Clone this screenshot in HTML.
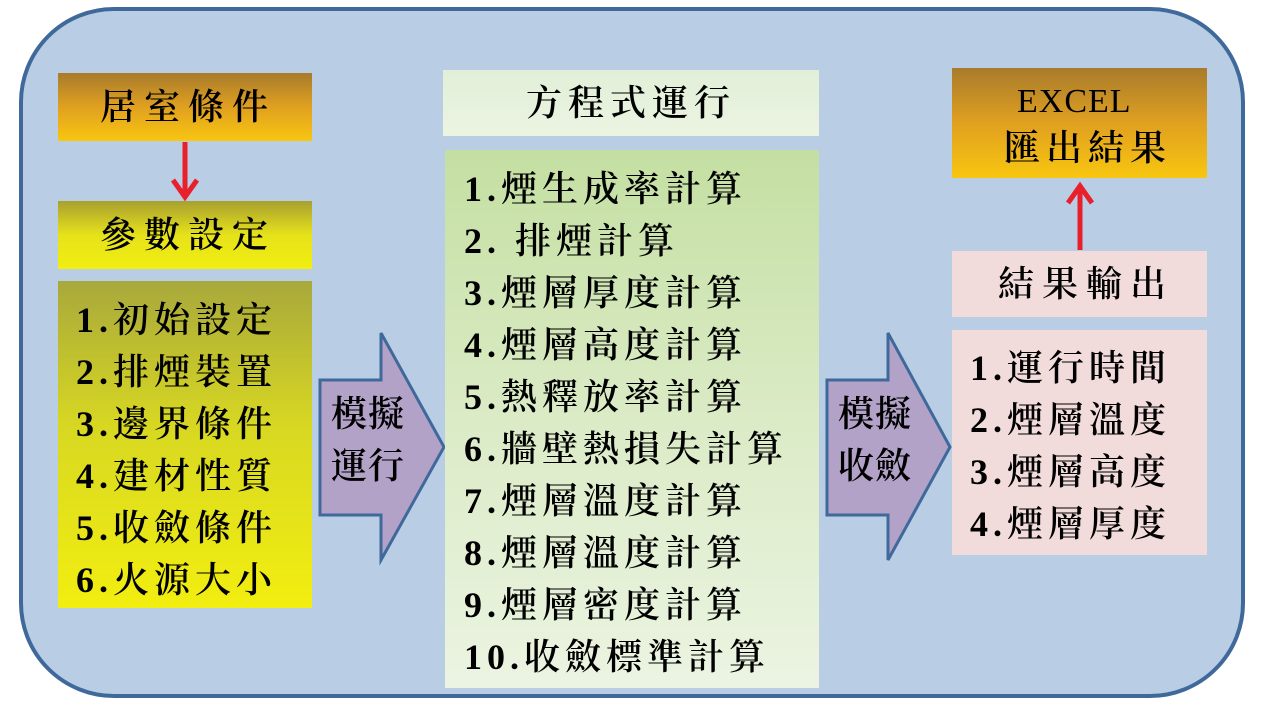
<!DOCTYPE html>
<html><head><meta charset="utf-8"><style>
body{margin:0;width:1262px;height:708px;background:#fff;position:relative;overflow:hidden;font-family:"Liberation Serif","Noto Serif CJK SC","Noto Serif CJK TC",serif;color:#000}
.a{position:absolute;box-sizing:border-box}
.t{position:absolute;font-size:36px;white-space:nowrap;letter-spacing:5px;line-height:1;font-weight:600}
</style></head><body>
<div class="a" style="left:19px;top:7px;width:1226px;height:691px;border:4px solid #40699b;border-radius:95px;background:#b9cde5"></div>

<div class="a" style="left:58px;top:73px;width:254px;height:68px;background:linear-gradient(#a87b2c,#e0a020 50%,#f8c610)"></div>
<div class="t" style="left:100px;top:89px;letter-spacing:8px">居室條件</div>
<svg class="a" style="left:0;top:0" width="1262" height="708">
<line x1="185" y1="142" x2="185" y2="196" stroke="#e8202c" stroke-width="5"/>
<polyline points="173,180 185,197 197,180" fill="none" stroke="#e8202c" stroke-width="5"/>
<line x1="1080" y1="250" x2="1080" y2="186" stroke="#e8202c" stroke-width="5"/>
<polyline points="1068,203 1080,186 1092,203" fill="none" stroke="#e8202c" stroke-width="5"/>
<polygon points="320,380 381,380 381,333 444,447 381,560 381,515 320,515" fill="#b3a2c7" stroke="#40699b" stroke-width="3"/>
<polygon points="827,380 888,380 888,333 950,447 888,560 888,515 827,515" fill="#b3a2c7" stroke="#40699b" stroke-width="3"/>
</svg>
<div class="a" style="left:58px;top:201px;width:254px;height:68px;background:linear-gradient(#a8a030,#e6e21a 50%,#f2ee10)"></div>
<div class="t" style="left:100px;top:217px;letter-spacing:8px">參數設定</div>
<div class="a" style="left:58px;top:281px;width:254px;height:327px;background:linear-gradient(#a8a83c,#d8d822 45%,#f2ee10)"></div>
<div class="t" style="left:76px;top:294px;line-height:52px">1.初始設定<br>2.排煙裝置<br>3.邊界條件<br>4.建材性質<br>5.收斂條件<br>6.火源大小</div>

<div class="a" style="left:443px;top:70px;width:376px;height:66px;background:linear-gradient(#e2efd8,#ebf4e2)"></div>
<div class="t" style="left:526px;top:85px;letter-spacing:6px">方程式運行</div>
<div class="a" style="left:445px;top:150px;width:374px;height:538px;background:linear-gradient(#c4dfa2,#dbebc6 50%,#ebf4e2)"></div>
<div class="t" style="left:464px;top:163px;line-height:52px">1.煙生成率計算<br>2. 排煙計算<br>3.煙層厚度計算<br>4.煙層高度計算<br>5.熱釋放率計算<br>6.牆壁熱損失計算<br>7.煙層溫度計算<br>8.煙層溫度計算<br>9.煙層密度計算<br>10.收斂標準計算</div>

<div class="t" style="left:331px;top:388px;line-height:52px;letter-spacing:1px">模擬<br>運行</div>
<div class="t" style="left:838px;top:388px;line-height:52px;letter-spacing:1px">模擬<br>收斂</div>

<div class="a" style="left:952px;top:68px;width:255px;height:110px;background:linear-gradient(#a87b2c,#e0a020 50%,#f8c610)"></div>
<div class="t" style="left:1017px;top:85px;letter-spacing:1px;font-size:34px;font-weight:normal">EXCEL</div>
<div class="t" style="left:1004px;top:130px;letter-spacing:6px">匯出結果</div>
<div class="a" style="left:952px;top:251px;width:255px;height:66px;background:#f2dcdb"></div>
<div class="t" style="left:998px;top:266px;letter-spacing:8px">結果輸出</div>
<div class="a" style="left:952px;top:330px;width:255px;height:225px;background:#f2dcdb"></div>
<div class="t" style="left:970px;top:342px;line-height:52px">1.運行時間<br>2.煙層溫度<br>3.煙層高度<br>4.煙層厚度</div>
</body></html>
